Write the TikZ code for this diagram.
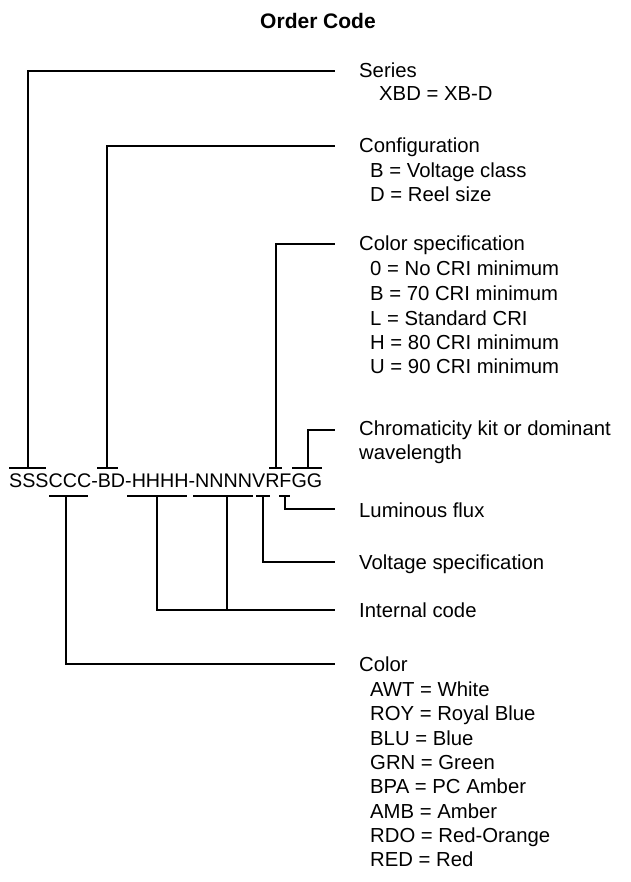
\documentclass[tikz,border=0pt]{standalone}
\usepackage{fontspec}
\setmainfont{Liberation Sans}
\begin{document}
\begin{tikzpicture}[x=1pt,y=-1pt,
  ln/.style={line width=1.3pt, line cap=butt},
  lbl/.style={anchor=base west, inner sep=0pt, font=\fontsize{20.3}{24.3}\selectfont}]
\useasboundingbox (0,0) rectangle (630,882);
\node[font=\fontsize{21}{24}\selectfont\bfseries] (title) at (318,21) {Order Code};
\node[anchor=base west, inner sep=0pt, font=\fontsize{19.7}{24}\selectfont] (code) at (9,487) {SSSCCC-BD-HHHH-NNNNVRFGG};
% labels
\node[lbl] (series) at (359,78) {Series};
\node[lbl] (series1) at (379,101) {XBD = XB-D};
\node[lbl] (config) at (359,153) {Configuration};
\node[lbl] (config1) at (370,178) {B = Voltage class};
\node[lbl] (config2) at (370,202) {D = Reel size};
\node[lbl] (cspec) at (359,251) {Color specification};
\node[lbl] (cspec1) at (370,276) {0 = No CRI minimum};
\node[lbl] (cspec2) at (370,300) {B = 70 CRI minimum};
\node[lbl] (cspec3) at (370,325) {L = Standard CRI};
\node[lbl] (cspec4) at (370,349) {H = 80 CRI minimum};
\node[lbl] (cspec5) at (370,373) {U = 90 CRI minimum};
\node[lbl] (chrom) at (359,435) {Chromaticity kit or dominant};
\node[lbl] (chrom1) at (359,459) {wavelength};
\node[lbl] (flux) at (359,517) {Luminous flux};
\node[lbl] (volt) at (359,569) {Voltage specification};
\node[lbl] (intc) at (359,617) {Internal code};
\node[lbl] (color) at (359,671) {Color};
\node[lbl] (color1) at (370,696) {AWT = White};
\node[lbl] (color2) at (370,720) {ROY = Royal Blue};
\node[lbl] (color3) at (370,745) {BLU = Blue};
\node[lbl] (color4) at (370,769) {GRN = Green};
\node[lbl] (color5) at (370,793) {BPA = PC Amber};
\node[lbl] (color6) at (370,818) {AMB = Amber};
\node[lbl] (color7) at (370,842) {RDO = Red-Orange};
\node[lbl] (color8) at (370,866) {RED = Red};
% top brackets
\coordinate (sA) at (9,468);  \coordinate (sB) at (46,468);  \coordinate (sM) at (28,468);  \coordinate (sE) at (335,71);
\coordinate (bA) at (97,468); \coordinate (bB) at (118,468); \coordinate (bM) at (107,468); \coordinate (bE) at (335,146);
\coordinate (rA) at (269,468); \coordinate (rB) at (282,468); \coordinate (rM) at (276,468); \coordinate (rE) at (335,244);
\coordinate (gA) at (292,468); \coordinate (gB) at (322,468); \coordinate (gM) at (308,468); \coordinate (gE) at (335,430);
% bottom brackets
\coordinate (cA) at (49,496); \coordinate (cB) at (88,496); \coordinate (cM) at (66,496); \coordinate (cE) at (335,664);
\coordinate (hA) at (127,496); \coordinate (hB) at (187,496); \coordinate (hM) at (157,496); \coordinate (hE) at (335,610);
\coordinate (nA) at (193,496); \coordinate (nB) at (253,496); \coordinate (nM) at (227,496);
\coordinate (vA) at (256,496); \coordinate (vB) at (270,496); \coordinate (vM) at (263,496); \coordinate (vE) at (335,562);
\coordinate (fA) at (279,496); \coordinate (fB) at (290,496); \coordinate (fM) at (285,496); \coordinate (fE) at (335,509);
\foreach \k in {s,b,r,g,c,h,n,v,f} {\draw[ln] (\k A) -- (\k B);}
\foreach \k in {s,b,r,g,c,h,v,f} {\draw[ln] (\k M) |- (\k E);}
\draw[ln] (nM) |- (hE);
\end{tikzpicture}
\end{document}
